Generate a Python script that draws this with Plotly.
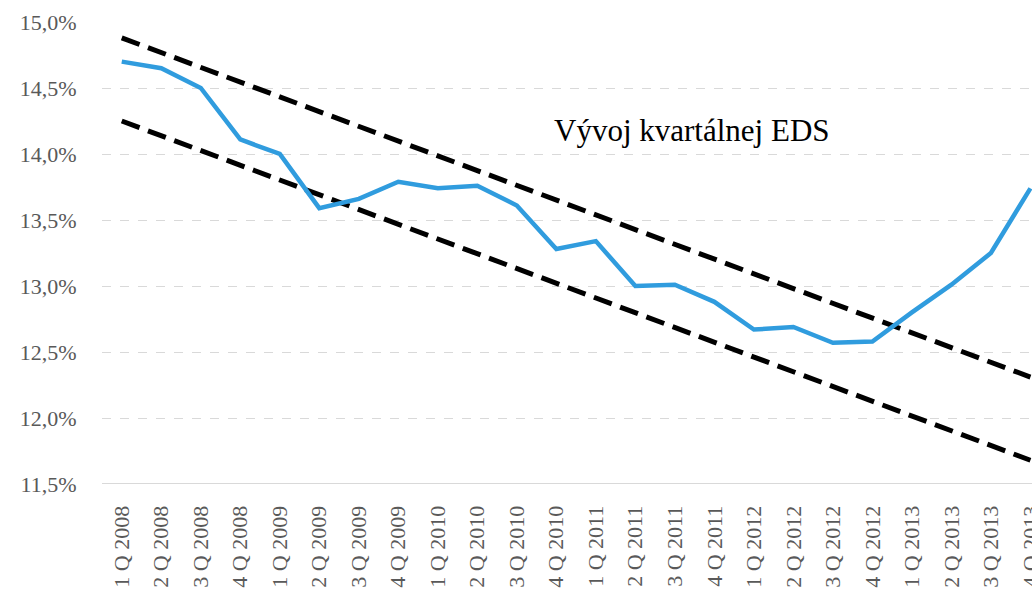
import plotly.graph_objects as go

quarters = ["1 Q 2008", "2 Q 2008", "3 Q 2008", "4 Q 2008",
            "1 Q 2009", "2 Q 2009", "3 Q 2009", "4 Q 2009",
            "1 Q 2010", "2 Q 2010", "3 Q 2010", "4 Q 2010",
            "1 Q 2011", "2 Q 2011", "3 Q 2011", "4 Q 2011",
            "1 Q 2012", "2 Q 2012", "3 Q 2012", "4 Q 2012",
            "1 Q 2013", "2 Q 2013", "3 Q 2013", "4 Q 2013"]
eds = [14.70, 14.65, 14.50, 14.11, 14.00, 13.59, 13.66, 13.79,
       13.74, 13.76, 13.61, 13.28, 13.34, 13.00, 13.01, 12.88,
       12.67, 12.69, 12.57, 12.58, 12.80, 13.01, 13.25, 13.74]
trend_upper = [14.88, 12.31]
trend_lower = [14.25, 11.68]
trend_x = [quarters[0], quarters[-1]]
y_ticks = [11.5, 12.0, 12.5, 13.0, 13.5, 14.0, 14.5, 15.0]
y_ticktext = [f"{v:.1f}%".replace(".", ",") for v in y_ticks]

FONT = "Liberation Serif"
GRAY = "#595959"

fig = go.Figure()
fig.add_trace(go.Scatter(x=trend_x, y=trend_upper, mode="lines",
                         line=dict(color="black", width=5, dash="19px,9px"),
                         hoverinfo="skip"))
fig.add_trace(go.Scatter(x=trend_x, y=trend_lower, mode="lines",
                         line=dict(color="black", width=5, dash="19px,9px"),
                         hoverinfo="skip"))
fig.add_trace(go.Scatter(x=quarters, y=eds, mode="lines",
                         line=dict(color="#309CDE", width=4.5)))

fig.add_annotation(x=14.43, y=14.18, xref="x", yref="y",
                   text="Vývoj kvartálnej EDS", showarrow=False,
                   font=dict(family=FONT, size=31, color="black"))

fig.update_layout(
    width=1032, height=594,
    margin=dict(l=102, r=0, t=22, b=110, autoexpand=False),
    paper_bgcolor="white", plot_bgcolor="white",
    showlegend=False,
    font=dict(family=FONT, color=GRAY),
)
fig.update_xaxes(
    type="category", categoryorder="array", categoryarray=quarters,
    range=[-0.5, 23.04], automargin=False,
    tickangle=-90, tickfont=dict(family=FONT, size=22, color=GRAY),
    showgrid=False, showline=False, zeroline=False,
    ticks="outside", ticklen=12, tickcolor="rgba(0,0,0,0)",
)
fig.update_yaxes(
    range=[11.5, 15.0], tickvals=y_ticks, ticktext=y_ticktext, automargin=False,
    tickfont=dict(family=FONT, size=22, color=GRAY),
    showgrid=True, gridcolor="#d9d9d9", gridwidth=1, griddash="dash",
    zeroline=False, showline=False,
    ticks="outside", ticklen=20, tickcolor="rgba(0,0,0,0)",
)
fig.add_shape(type="line", xref="paper", yref="y", x0=0, x1=1, y0=11.5, y1=11.5,
              line=dict(color="#d9d9d9", width=2), layer="below")

fig.write_html("out.html", config={"displayModeBar": False},
               post_script="document.body.style.margin='0px';document.body.style.overflow='hidden';")
